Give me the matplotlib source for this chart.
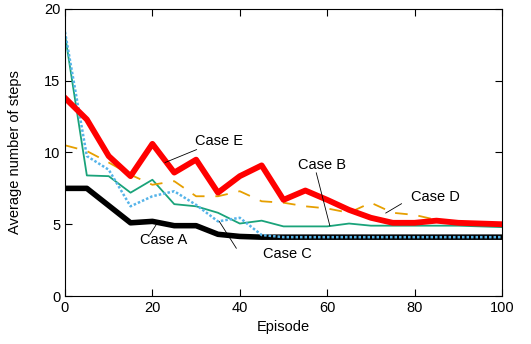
import matplotlib
matplotlib.use("Agg")
import matplotlib.pyplot as plt

plt.rcParams['font.family'] = ['Liberation Sans', 'DejaVu Sans']

episodes = [0, 5, 10, 15, 20, 25, 30, 35, 40, 45, 50, 55, 60, 65, 70, 75, 80, 85, 90, 95, 100]

case_a = [7.5, 7.5, 6.3, 5.1, 5.2, 4.9, 4.9, 4.3, 4.15, 4.1, 4.1, 4.1, 4.1, 4.1, 4.1, 4.1, 4.1, 4.1, 4.1, 4.1, 4.1]
case_b = [18.2, 8.4, 8.35, 7.2, 8.1, 6.4, 6.25, 5.8, 5.05, 5.25, 4.85, 4.85, 4.85, 5.05, 4.9, 4.9, 4.9, 4.9, 4.9, 4.85, 4.8]
case_c = [18.4, 9.75, 8.8, 6.25, 6.95, 7.3, 6.35, 5.2, 5.45, 4.25, 4.1, 4.1, 4.1, 4.1, 4.1, 4.1, 4.1, 4.1, 4.1, 4.1, 4.1]
case_d = [10.5, 10.1, 9.3, 8.45, 7.75, 8.0, 6.95, 6.95, 7.3, 6.6, 6.5, 6.25, 6.1, 5.8, 6.5, 5.8, 5.65, 5.3, 5.1, 5.0, 5.0]
case_e = [13.8, 12.3, 9.75, 8.35, 10.6, 8.6, 9.5, 7.2, 8.35, 9.1, 6.7, 7.35, 6.7, 6.0, 5.45, 5.1, 5.1, 5.25, 5.1, 5.05, 5.0]

fig = plt.figure(figsize=(5.31, 3.44), dpi=100)
ax = fig.add_axes([0.1224, 0.1395, 0.8230, 0.8345])

ax.plot(episodes, case_a, color='black', lw=4)
ax.plot(episodes, case_b, color='#1aa37a', lw=1.3)
ax.plot(episodes, case_c, color='#56b4e9', lw=1.8, dashes=(1, 0.8))
ax.plot(episodes, case_d, color='#e69f00', lw=1.3, dashes=(7, 6))
ax.plot(episodes, case_e, color='#ff0000', lw=4.2)

notes = [
    ("Case E", (29.7, 10.8), (30.1, 10.2), (22.9, 9.3)),
    ("Case A", (17.1, 3.87), (19.4, 4.27), (21.0, 5.03)),
    ("Case C", (45.2, 2.94), (39.2, 3.33), (35.3, 5.2)),
    ("Case B", (53.3, 9.16), (57.5, 8.58), (60.6, 4.9)),
    ("Case D", (79.1, 6.87), (77.0, 6.43), (73.4, 5.78)),
]
for label, pos, start, end in notes:
    ax.text(pos[0], pos[1], label, fontsize=10.5, va='center', ha='left')
    ax.plot([start[0], end[0]], [start[1], end[1]], color='black', lw=0.6)

ax.set_xlim(0, 100)
ax.set_ylim(0, 20)
ax.set_xticks([0, 20, 40, 60, 80, 100])
ax.set_yticks([0, 5, 10, 15, 20])
ax.tick_params(direction='in', top=True, right=True, labelsize=10.5, length=5)
ax.set_xlabel("Episode", fontsize=10.5)
ax.set_ylabel("Average number of steps", fontsize=10.5)
ax.yaxis.set_label_coords(-0.098, 0.5)

fig.savefig("out.png", dpi=100)
